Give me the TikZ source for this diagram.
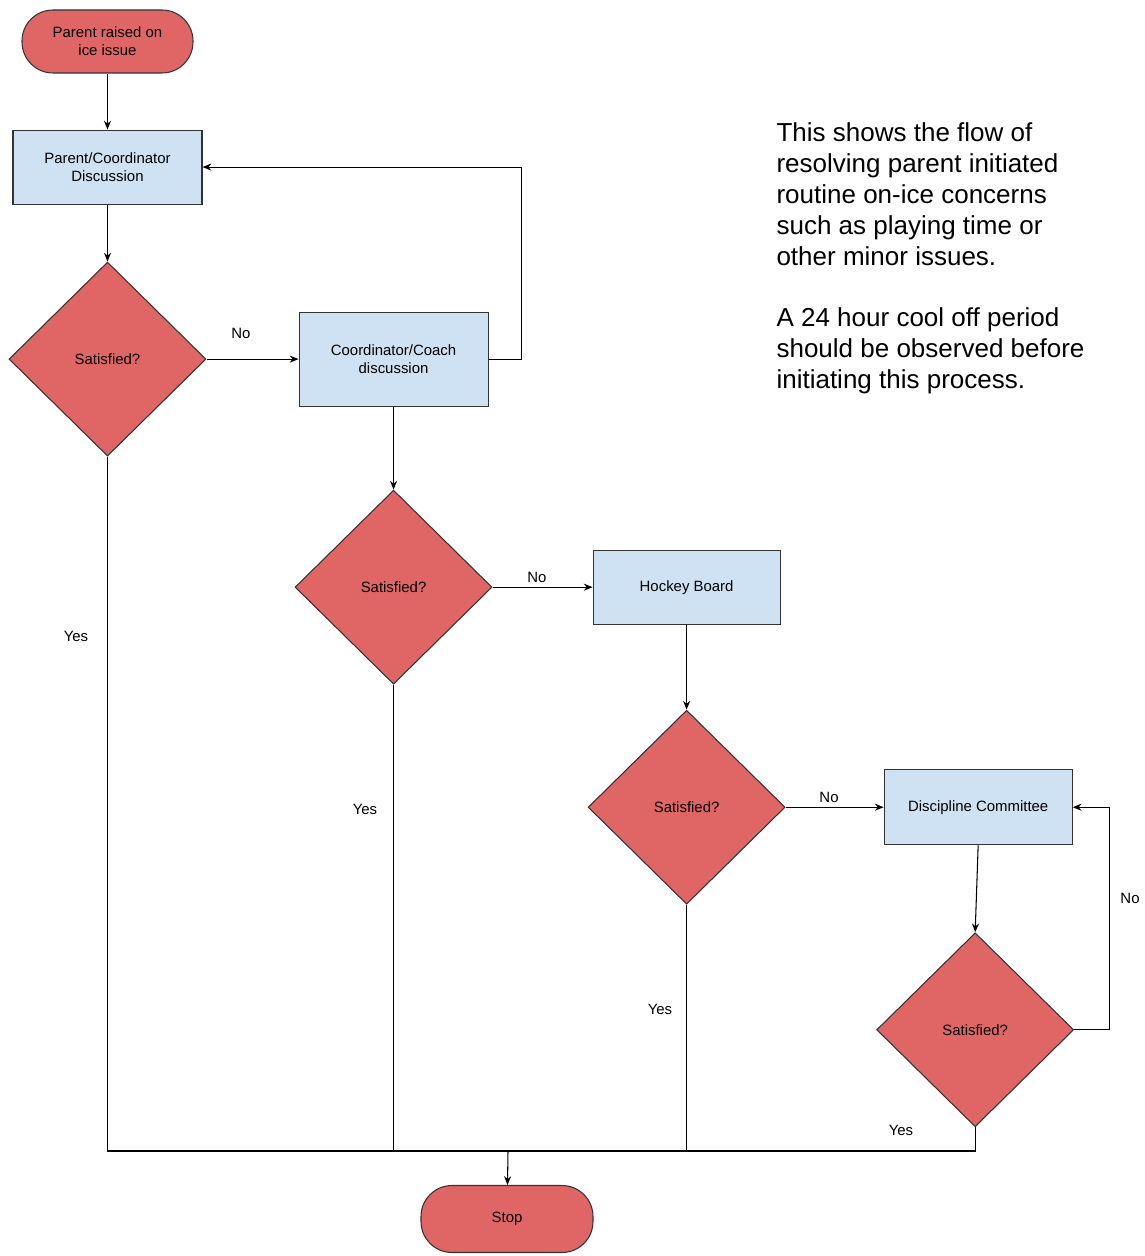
\documentclass[tikz,border=0pt]{standalone}
\usepackage{fontspec}
\setmainfont{Liberation Sans}
\usetikzlibrary{positioning,shapes.geometric,arrows.meta}
\definecolor{redfill}{HTML}{E06666}
\definecolor{bluefill}{HTML}{CFE2F3}
\definecolor{edgegray}{HTML}{333333}

\begin{document}
\begin{tikzpicture}[
        line width=0.6pt,
        nodefont/.style={font=\fontsize{8.5}{10.2}\selectfont},
        terminal/.style={nodefont, draw=edgegray, fill=redfill, rounded corners=0.62cm,
          minimum width=3.42cm, minimum height=1.26cm, align=center, inner sep=0pt},
        stepbox/.style={nodefont, draw=edgegray, fill=bluefill, minimum width=3.78cm,
          minimum height=1.48cm, align=center, inner sep=0pt},
        decision/.style={nodefont, diamond, draw=edgegray, fill=redfill, minimum width=3.94cm,
          minimum height=3.88cm, inner sep=0pt},
        lbl/.style={nodefont, inner sep=0pt},
        arr/.style={-{Stealth[length=5pt,width=4pt]}},
      ]
        \useasboundingbox (0,0) rectangle (22.88,-25.12);
        \node[terminal] (start) at (2.15,-0.83) {Parent raised on\\ice issue};
        \node[stepbox, below=1.12cm of start] (pc) {Parent/Coordinator\\Discussion};
        \node[decision, below=1.14cm of pc] (d1) {Satisfied?};
        \node[stepbox, minimum height=1.88cm, right=1.84cm of d1] (cc) {Coordinator/Coach\\discussion};
        \node[decision, below=1.66cm of cc] (d2) {Satisfied?};
        \node[stepbox, minimum width=3.74cm, right=2.0cm of d2] (hb) {Hockey Board};
        \node[decision, below=1.70cm of hb] (d3) {Satisfied?};
        \node[stepbox, minimum width=3.76cm, minimum height=1.5cm, right=1.96cm of d3] (dc) {Discipline Committee};
        \node[decision, below=1.74cm of dc, xshift=-0.06cm] (d4) {Satisfied?};
        \node[terminal, minimum width=3.44cm, minimum height=1.34cm] (stop) at (10.14,-24.38) {Stop};
        \coordinate (bus) at (10.16,-23.02);

        \node[font=\fontsize{14.8}{17.6}\selectfont, align=left, inner sep=0pt, anchor=north west]
          (note) at (15.52,-2.44) {This shows the flow of\\resolving parent initiated\\routine on-ice concerns\\such as playing time or\\other minor issues.\\[17.6pt]A 24 hour cool off period\\should be observed before\\initiating this process.};

        \node[lbl] (no1) at (4.82,-6.66) {No};
        \node[lbl] (no2) at (10.74,-11.54) {No};
        \node[lbl] (no3) at (16.58,-15.94) {No};
        \node[lbl] (no4) at (22.6,-17.96) {No};
        \node[lbl] (yes1) at (1.52,-12.72) {Yes};
        \node[lbl] (yes2) at (7.30,-16.18) {Yes};
        \node[lbl] (yes3) at (13.2,-20.18) {Yes};
        \node[lbl] (yes4) at (18.02,-22.6) {Yes};

        \draw[arr] (start) -- (pc);
        \draw[arr] (pc) -- (d1);
        \draw[arr] (d1.east) -- (cc.west);
        \draw[arr] (cc.east) -- ++(0.66,0) |- (pc.east);
        \draw[arr] (cc) -- (d2);
        \draw[arr] (d2.east) -- (hb.west);
        \draw[arr] (hb) -- (d3);
        \draw[arr] (d3.east) -- (dc.west);
        \draw[arr] (dc.south) -- (d4.north);
        \draw[arr] (d4.east) -- ++(0.7,0) |- (dc.east);
        \draw (d1.south) -- (d1.south |- bus) -- (d4.south |- bus) -- (d4.south);
        \draw (d2.south) -- (d2.south |- bus);
        \draw (d3.south) -- (d3.south |- bus);
        \draw[arr] (bus) -- (stop);
\end{tikzpicture}
\end{document}
